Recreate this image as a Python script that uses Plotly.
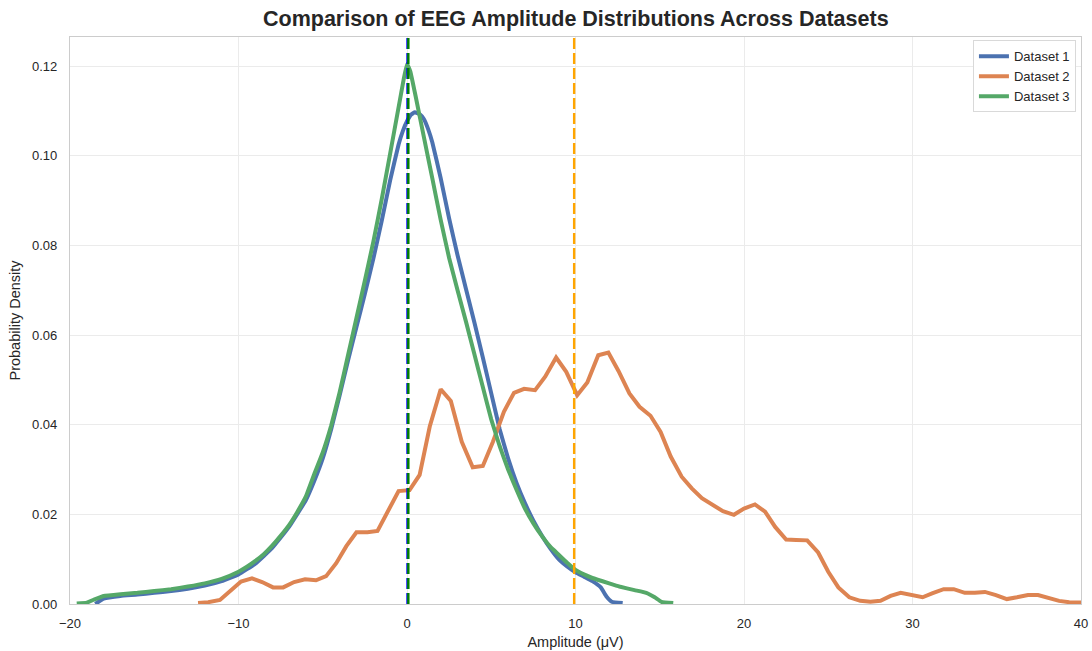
import plotly.graph_objects as go

# Amplitude grid (µV) and density estimates for each dataset
ds1_x = [-18.5, -18.0, -17.0, -16.0, -15.0, -14.0, -13.0, -12.0, -11.0, -10.0, -9.0, -8.0,
         -7.0, -6.0, -5.5, -5.0, -4.5, -4.0, -3.5, -3.0, -2.5, -2.0, -1.5, -1.0, -0.5,
         -0.25, 0.0, 0.25, 0.47, 0.75, 1.0, 1.25, 1.5, 2.0, 2.5, 3.0, 3.5, 4.0, 4.5, 5.0,
         5.5, 6.0, 6.5, 7.0, 7.5, 8.0, 8.5, 9.0, 9.5, 10.0, 10.5, 11.0, 11.5, 11.85,
         12.15, 12.8]
ds1_y = [0.0000, 0.0012, 0.0018, 0.0021, 0.0025, 0.0029, 0.0034, 0.0041, 0.0051, 0.0066,
         0.0090, 0.0125, 0.0172, 0.0232, 0.0275, 0.0325, 0.0390, 0.0465, 0.0543, 0.0618,
         0.0692, 0.0770, 0.0855, 0.0945, 0.1025, 0.1055, 0.1077, 0.1092, 0.1097, 0.1093,
         0.1082, 0.1060, 0.1030, 0.0950, 0.0860, 0.0778, 0.0703, 0.0628, 0.0550, 0.0470,
         0.0390, 0.0325, 0.0270, 0.0225, 0.0186, 0.0153, 0.0124, 0.0100, 0.0084, 0.0071,
         0.0061, 0.0051, 0.0037, 0.0016, 0.0005, 0.0002]

ds2_x = [-12.4, -11.8, -11.1, -10.5, -9.85, -9.2, -8.6, -7.95, -7.35, -6.7, -6.05, -5.4,
         -4.8, -4.2, -3.6, -3.0, -2.35, -1.75, -1.1, -0.5, 0.15, 0.75, 1.35, 2.0, 2.6,
         3.25, 3.9, 4.5, 5.1, 5.75, 6.35, 6.95, 7.6, 8.2, 8.85, 9.45, 10.1, 10.7, 11.35,
         11.95, 12.55, 13.2, 13.8, 14.45, 15.05, 15.65, 16.3, 16.9, 17.5, 18.15, 18.75,
         19.4, 20.0, 20.65, 21.25, 21.85, 22.5, 23.1, 23.75, 24.4, 25.0, 25.6, 26.25,
         26.9, 27.5, 28.1, 28.7, 29.3, 29.95, 30.6, 31.2, 31.85, 32.45, 33.1, 33.7, 34.3,
         34.95, 35.6, 36.2, 36.85, 37.45, 38.05, 38.7, 39.3, 39.9, 40.5]
ds2_y = [0.0002, 0.0004, 0.0009, 0.0030, 0.0050, 0.0057, 0.0049, 0.0037, 0.0037, 0.0049,
         0.0055, 0.0053, 0.0062, 0.0091, 0.0129, 0.0160, 0.0160, 0.0163, 0.0207, 0.0252,
         0.0254, 0.0288, 0.0396, 0.0479, 0.0453, 0.0362, 0.0305, 0.0308, 0.0362, 0.0429,
         0.0471, 0.0480, 0.0477, 0.0507, 0.0550, 0.0518, 0.0466, 0.0494, 0.0555, 0.0561,
         0.0520, 0.0470, 0.0440, 0.0420, 0.0384, 0.0329, 0.0284, 0.0258, 0.0236, 0.0221,
         0.0207, 0.0199, 0.0213, 0.0222, 0.0206, 0.0172, 0.0144, 0.0143, 0.0142, 0.0115,
         0.0072, 0.0037, 0.0015, 0.0007, 0.0005, 0.0007, 0.0018, 0.0025, 0.0020, 0.0015,
         0.0024, 0.0033, 0.0033, 0.0025, 0.0025, 0.0027, 0.0020, 0.0011, 0.0015, 0.0020,
         0.0020, 0.0013, 0.0007, 0.0004, 0.0003, 0.0003]

ds3_x = [-19.6, -19.0, -18.5, -18.0, -17.0, -16.0, -15.0, -14.0, -13.0, -12.0, -11.0,
         -10.0, -9.5, -9.0, -8.5, -8.0, -7.5, -7.0, -6.5, -6.0, -5.5, -5.0, -4.5, -4.0,
         -3.5, -3.0, -2.5, -2.0, -1.5, -1.0, -0.5, -0.2, 0.0, 0.2, 0.5, 1.0, 1.5, 2.0,
         2.5, 3.0, 3.5, 4.0, 4.5, 5.0, 5.5, 6.0, 6.5, 7.0, 7.5, 8.0, 8.5, 9.0, 9.5, 10.0,
         10.5, 11.0, 12.0, 12.6, 13.5, 14.2, 14.7, 15.1, 15.8]
ds3_y = [0.0001, 0.0003, 0.0011, 0.0018, 0.0022, 0.0025, 0.0029, 0.0033, 0.0039, 0.0046,
         0.0056, 0.0072, 0.0083, 0.0096, 0.0111, 0.0130, 0.0152, 0.0176, 0.0206, 0.0240,
         0.0290, 0.0338, 0.0398, 0.0472, 0.0555, 0.0638, 0.0722, 0.0808, 0.0903, 0.1005,
         0.1108, 0.1170, 0.1205, 0.1188, 0.1135, 0.1042, 0.0950, 0.0857, 0.0772, 0.0700,
         0.0630, 0.0557, 0.0484, 0.0412, 0.0352, 0.0300, 0.0255, 0.0213, 0.0180, 0.0152,
         0.0128, 0.0110, 0.0092, 0.0076, 0.0066, 0.0058, 0.0046, 0.0039, 0.0031, 0.0025,
         0.0015, 0.0005, 0.0002]

series_names = ["Dataset 1", "Dataset 2", "Dataset 3"]
series_colors = ["#4c72b0", "#dd8452", "#55a868"]
series_shapes = ["spline", "linear", "spline"]

# Mean amplitude of each dataset, drawn as dashed reference lines
mean_values = [0.03, 9.92, 0.08]
mean_colors = ["#0000ff", "#ffa500", "#008000"]

fig = go.Figure()
for name, xs, ys, col, shp in zip(series_names, [ds1_x, ds2_x, ds3_x], [ds1_y, ds2_y, ds3_y],
                                  series_colors, series_shapes):
    line = dict(color=col, width=4, shape=shp)
    if shp == "spline":
        line["smoothing"] = 0.3
    fig.add_trace(go.Scatter(x=xs, y=ys, mode="lines", name=name, line=line))

for m, col in zip(mean_values, mean_colors):
    fig.add_shape(type="line", xref="x", yref="paper", x0=m, x1=m, y0=0, y1=1,
                  line=dict(color=col, width=2.4, dash="11px,4px"), layer="above")

fig.update_layout(
    width=1092, height=651,
    margin=dict(l=70, r=11, t=37, b=47),
    paper_bgcolor="white", plot_bgcolor="white",
    font=dict(family="Liberation Sans, Arial, sans-serif", size=13, color="#262626"),
    title=dict(text="<b>Comparison of EEG Amplitude Distributions Across Datasets</b>",
               x=0.5273, xanchor="center", y=0.971, yanchor="middle",
               font=dict(size=21.5, color="#262626")),
    legend=dict(x=0.995, y=0.994, xanchor="right", yanchor="top",
                bgcolor="white", bordercolor="#d9d9d9", borderwidth=1,
                font=dict(size=13), tracegroupgap=0),
    showlegend=True,
)
fig.update_xaxes(range=[-20, 40], tickvals=[-20, -10, 0, 10, 20, 30, 40],
                 showgrid=True, gridcolor="#ebebeb", gridwidth=1, zeroline=False,
                 showline=True, linecolor="#cccccc", linewidth=1.2, mirror=True,
                 ticks="outside", ticklen=7, tickcolor="rgba(0,0,0,0)", automargin=False,
                 tickfont=dict(size=13),
                 title=dict(text="Amplitude (μV)", standoff=7, font=dict(size=14.5)))
fig.update_yaxes(range=[0, 0.1265], tickvals=[0, 0.02, 0.04, 0.06, 0.08, 0.10, 0.12],
                 tickformat=".2f",
                 showgrid=True, gridcolor="#ebebeb", gridwidth=1, zeroline=False,
                 showline=True, linecolor="#cccccc", linewidth=1.2, mirror=True,
                 ticks="outside", ticklen=9, tickcolor="rgba(0,0,0,0)", automargin=False,
                 tickfont=dict(size=13),
                 title=dict(text="Probability Density", standoff=7, font=dict(size=14.5)))

fig.write_html("out.html")
